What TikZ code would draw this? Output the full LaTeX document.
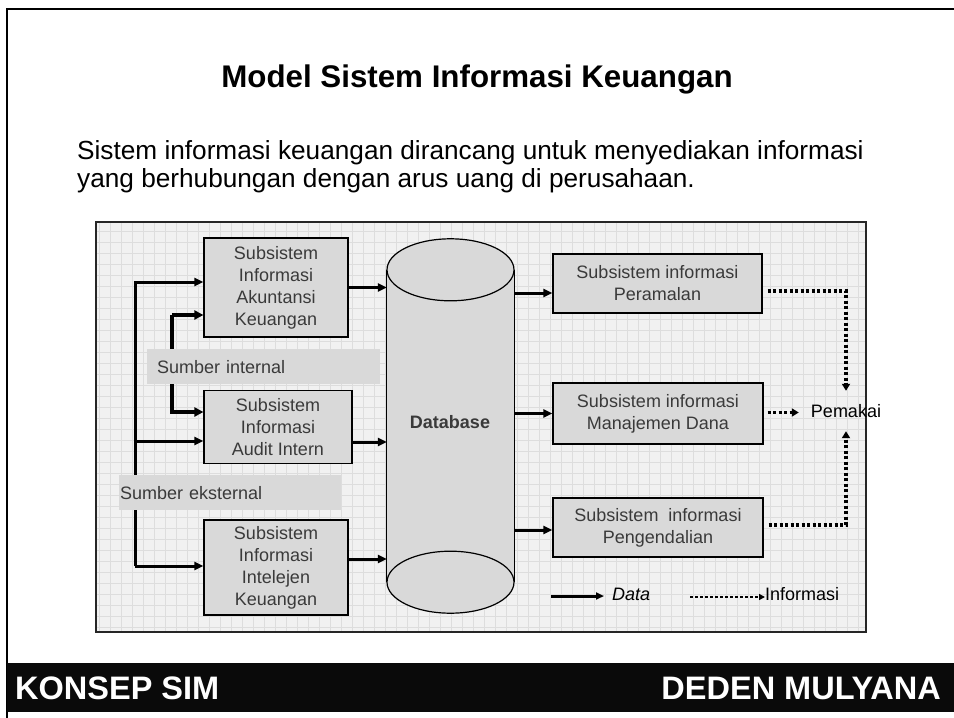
\documentclass[tikz,border=0pt]{standalone}
\usepackage{fontspec}
\setmainfont{Liberation Sans}
\usetikzlibrary{arrows.meta,calc}
\definecolor{boxfill}{HTML}{D9D9D9}
\definecolor{boxtext}{HTML}{3A3A3A}
\definecolor{panelfill}{HTML}{F1F1F1}
\definecolor{gridc}{HTML}{DDDDDD}
\definecolor{footblack}{HTML}{0A0A0A}
\begin{document}
\begin{tikzpicture}[x=1pt,y=-1pt,
  sub/.style={draw=black, line width=1.2pt, fill=boxfill, text=boxtext,
    font=\fontsize{18}{22}\selectfont, align=center, inner sep=0pt},
  band/.style={fill=boxfill, text=boxtext, font=\fontsize{18}{22}\selectfont,
    anchor=north west, align=left, minimum height=35pt, inner ysep=0pt},
  data/.style={line width=3pt, -{Triangle[length=9pt,width=8pt]}},
  datathick/.style={line width=4pt, -{Triangle[length=9pt,width=9pt]}},
  info/.style={line width=3.5pt, dash pattern=on 3pt off 2.5pt,
    -{Triangle[length=7pt,width=8pt]}},
  lbl/.style={font=\fontsize{18}{22}\selectfont, text=black, inner sep=0pt},
  paraline/.style={anchor=base west, inner sep=0pt, font=\fontsize{26.2}{28}\selectfont},
  foottext/.style={text=white, inner sep=0pt, font=\bfseries\fontsize{32.5}{36}\selectfont},
]
\useasboundingbox (0,0) rectangle (954,718);
\fill[white] (0,0) rectangle (954,718);
% frame
\draw[line width=2.5pt] (7,718) -- (7,9) -- (954,9);
% title & text
\node[font=\bfseries\fontsize{31.3}{36}\selectfont] (title) at (477,79) {Model Sistem Informasi Keuangan};
\node[paraline] (p1) at (77,159) {Sistem informasi keuangan dirancang untuk menyediakan informasi};
\node[paraline] (p2) at (77,187) {yang berhubungan dengan arus uang di perusahaan.};
% panel
\fill[panelfill] (96,222) rectangle (866,632);
\draw[gridc, line width=0.6pt, step=11pt] (96,222) grid (866,632);
\draw[line width=1.5pt, draw=black!85] (96,222) rectangle (866,632);
% left boxes
\node[sub, minimum width=144pt, minimum height=99pt] (b1) at (276,287.5) {Subsistem\\Informasi\\Akuntansi\\Keuangan};
\node[sub, minimum width=148pt, minimum height=73pt] (b2) at (278,427) {Subsistem\\Informasi\\Audit Intern};
\node[sub, minimum width=144pt, minimum height=95pt] (b3) at (276,567.5) {Subsistem\\Informasi\\Intelejen\\Keuangan};
% database
\node[minimum width=127pt, minimum height=312pt, inner sep=0pt] (db) at (450.5,426) {};
\fill[boxfill] (db.north west) rectangle (db.south east);
\draw[line width=1.2pt] (db.north west) -- (db.south west);
\draw[line width=1.2pt] (db.north east) -- (db.south east);
\draw[line width=1.2pt, fill=boxfill] (db.north) ellipse [x radius=63.5, y radius=31];
\draw[line width=1.2pt, fill=boxfill] (db.south) ellipse [x radius=63.5, y radius=31];
\node[font=\bfseries\fontsize{18}{22}\selectfont, text=boxtext] (dbl) at (450,422) {Database};
% right boxes
\node[sub, minimum width=209pt, minimum height=59pt] (r1) at (657.5,283.5) {Subsistem informasi\\Peramalan};
\node[sub, minimum width=210pt, minimum height=61pt] (r2) at (658,413.5) {Subsistem informasi\\Manajemen Dana};
\node[sub, minimum width=210pt, minimum height=59pt] (r3) at (658,527.5) {Subsistem\ \ informasi\\Pengendalian};
% external source lines
\coordinate (e1) at (135,282);
\coordinate (e2) at (135,441);
\coordinate (e3) at (135,566);
\draw[data] (e3) -- (e1) -- (b1.west |- e1);
\draw[data] (e2) -- (b2.west |- e2);
\draw[data] (e3) -- (b3.west |- e3);
% internal source lines
\coordinate (i1) at (172,315);
\coordinate (i2) at (172,412);
\draw[datathick] (i1) -- (i2) -- (b2.west |- i2);
\draw[datathick] (i1) -- (b1.west |- i1);
% bands
\node[band, minimum width=233pt, text width=213pt, inner xsep=10pt] (si) at (147,349) {Sumber internal};
\node[band, minimum width=222pt, text width=220pt, inner xsep=1pt] (se) at (119,475) {Sumber eksternal};
% boxes to database
\draw[data] (b1.east) -- (db.west |- b1.east);
\draw[data] ($(b2.east)+(0,15)$) coordinate (a2) -- (db.west |- a2);
\draw[data] ($(b3.east)+(0,-8.5)$) coordinate (a3) -- (db.west |- a3);
% database to right boxes
\draw[data] (db.east |- 0,293) coordinate (d1) -- (r1.west |- d1);
\draw[data] (db.east |- r2.west) -- (r2.west);
\draw[data] (db.east |- 0,530) coordinate (d3) -- (r3.west |- d3);
% user
\node[lbl, minimum height=40pt, inner xsep=12pt] (pm) at (846,411) {Pemakai};
\draw[info] ($(r1.east)+(5,7.5)$) -| (pm.north);
\draw[info] ($(r2.east)+(4,-1)$) -- (pm.west |- 0,412.5);
\draw[info] ($(r3.east)+(5,-2.5)$) -| (pm.south);
% legend
\coordinate (l1) at (551,596);
\node[lbl, anchor=west, font=\itshape\fontsize{18}{22}\selectfont, inner xsep=8pt] (ld) at (604,594) {Data};
\draw[line width=3pt, -{Triangle[length=8pt,width=7pt]}] (l1) -- (ld.west |- l1);
\coordinate (l2) at (690,597);
\node[lbl, anchor=west] (li) at (765,594) {Informasi};
\draw[line width=2.5pt, dash pattern=on 2.5pt off 2.5pt, -{Triangle[length=6pt,width=6pt]}] (l2) -- (li.west |- l2);
% footer
\fill[footblack] (7,663) rectangle (954,712);
\node[foottext, anchor=west] (k1) at (15,688) {KONSEP SIM};
\node[foottext, anchor=east] (k2) at (941,688) {DEDEN MULYANA};
\end{tikzpicture}
\end{document}
